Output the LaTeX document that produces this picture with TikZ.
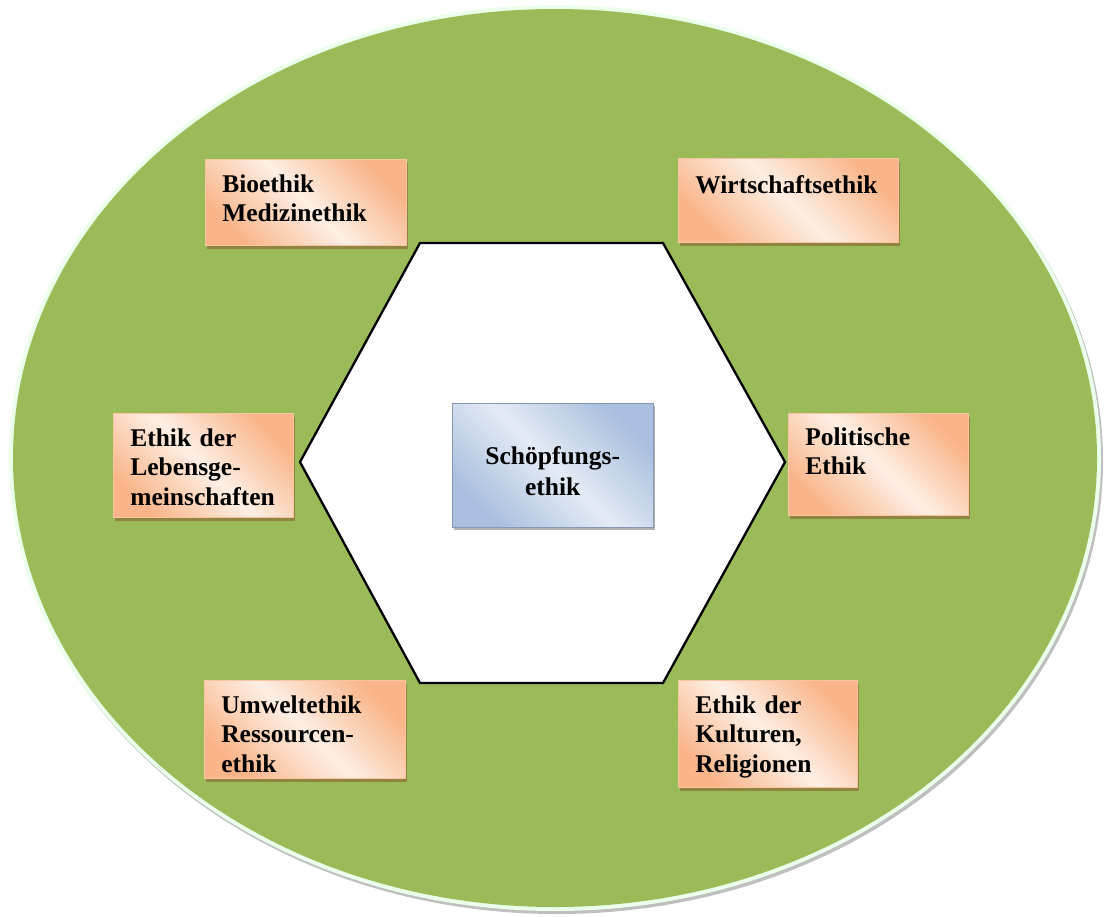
\documentclass[tikz,border=0pt]{standalone}
\usepackage{fontspec}
\setmainfont{Liberation Serif}
\usetikzlibrary{shadows}
\definecolor{leaf}{HTML}{9BBB59}
\definecolor{peachD}{HTML}{F9B589}
\definecolor{peachL}{HTML}{FEEFE4}
\definecolor{blueD}{HTML}{A9BFDF}
\definecolor{blueL}{HTML}{E4EBF5}
\tikzset{
  pbox/.style={rectangle, anchor=north west, inner xsep=17pt, inner ysep=0pt,
    align=left, font=\bfseries\fontsize{25.5}{29.5}\selectfont,
    left color=peachD, right color=peachD, middle color=peachL, shading angle=135,
    draw=peachD!80!white, line width=0.6pt,
    drop shadow={shadow xshift=1.5pt, shadow yshift=-3.5pt, fill=brown!70!black, opacity=.55}},
  cbox/.style={rectangle, anchor=north west, inner xsep=0pt, inner ysep=0pt,
    align=center, font=\bfseries\fontsize{25.5}{31}\selectfont,
    left color=blueD, right color=blueD, middle color=blueL, shading angle=135,
    draw=blueD!80!black, line width=0.5pt,
    drop shadow={shadow xshift=1.5pt, shadow yshift=-3pt, fill=black!60, opacity=.5}},
}
\begin{document}
\begin{tikzpicture}[x=1pt,y=-1pt]
\useasboundingbox (0,0) rectangle (1105,916);
% outer ellipse
\fill[black!25] (557,461) ellipse [x radius=546, y radius=453];
\fill[green!8!white] (555,458) ellipse [x radius=546, y radius=453];
\fill[leaf] (555,458) ellipse [x radius=542, y radius=449];
% hexagon
\draw[line width=2.3pt, fill=white, line join=miter]
  (420,243) -- (663,243) -- (785,462) -- (663,683) -- (420,683) -- (300,462) -- cycle;
% boxes
\node[pbox, text width=167pt, text height=33pt, text depth=53pt] (bio) at (205,159)
  {Bioethik\\Medizinethik};
\node[pbox, text width=186pt, text height=35pt, text depth=49pt] (wirt) at (678,158)
  {Wirtschaftsethik};
\node[pbox, text width=146pt, text height=33pt, text depth=71pt] (leb) at (113,413)
  {Ethik der\\Lebensge-\\meinschaften};
\node[pbox, text width=146pt, text height=32pt, text depth=70pt] (pol) at (788,413)
  {Politische\\Ethik};
\node[pbox, text width=167pt, text height=33pt, text depth=65pt] (umw) at (204,680)
  {Umweltethik\\Ressourcen-\\ethik};
\node[pbox, text width=145pt, text height=33pt, text depth=74pt] (kul) at (678,680)
  {Ethik der\\Kulturen,\\Religionen};
\node[cbox, text width=201pt, text height=61pt, text depth=63pt] (sch) at (452,403)
  {Schöpfungs-\\ethik};
\end{tikzpicture}
\end{document}
